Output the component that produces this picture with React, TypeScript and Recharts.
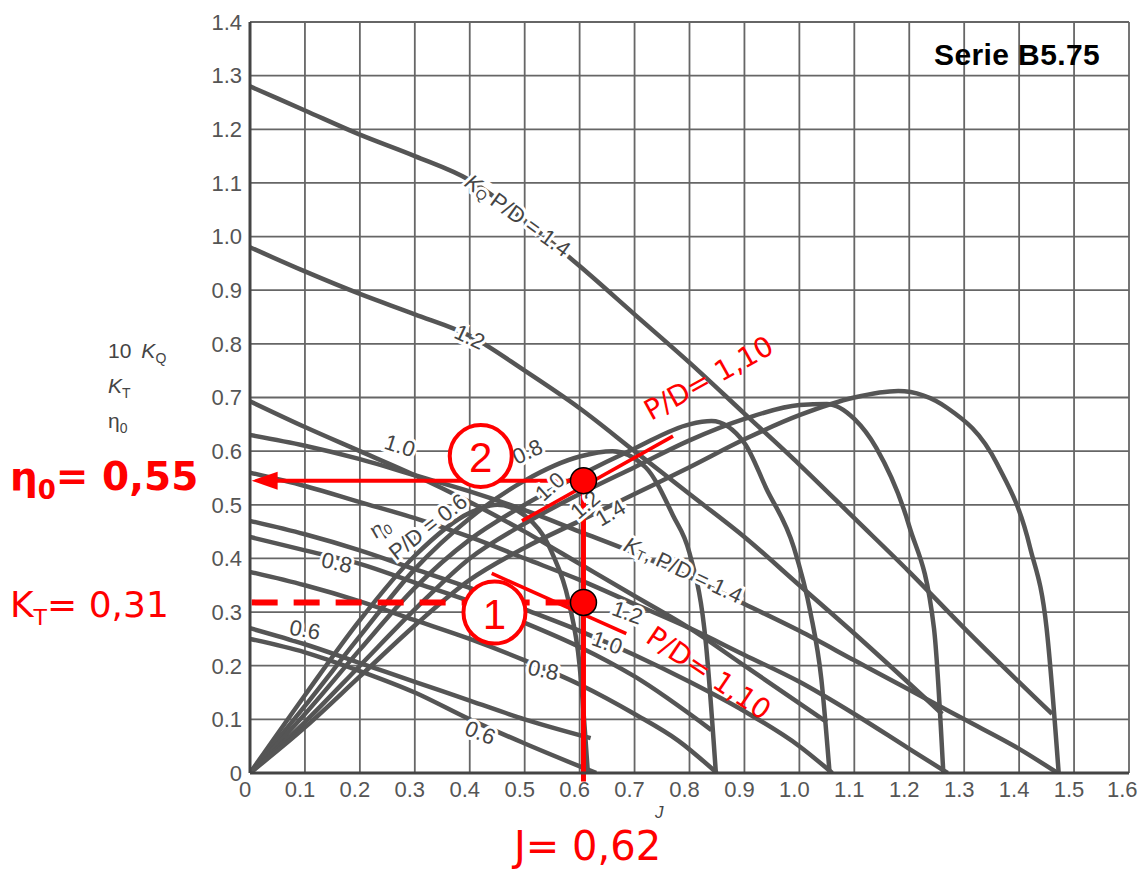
import React from 'react'
import {
  LineChart,
  Line,
  XAxis,
  YAxis,
  CartesianGrid,
  ReferenceLine,
  ReferenceDot,
} from 'recharts'

// axis ticks
const J_TICKS = [0, 0.1, 0.2, 0.3, 0.4, 0.5, 0.6, 0.7, 0.8, 0.9, 1.0, 1.1, 1.2, 1.3, 1.4, 1.5, 1.6]
const V_TICKS = [0, 0.1, 0.2, 0.3, 0.4, 0.5, 0.6, 0.7, 0.8, 0.9, 1.0, 1.1, 1.2, 1.3, 1.4]

// 10 KQ curves
const KQ06_J = [0, 0.1, 0.2, 0.3, 0.4, 0.5, 0.62]
const KQ06_V = [0.27, 0.24, 0.205, 0.17, 0.135, 0.1, 0.065]
const KQ08_J = [0, 0.1, 0.2, 0.3, 0.4, 0.5, 0.6, 0.7, 0.84]
const KQ08_V = [0.44, 0.415, 0.39, 0.355, 0.32, 0.28, 0.235, 0.18, 0.08]
const KQ10_J = [0, 0.1, 0.2, 0.3, 0.4, 0.5, 0.6, 0.7, 0.8, 0.9, 1.05]
const KQ10_V = [0.693, 0.645, 0.6, 0.555, 0.505, 0.45, 0.39, 0.33, 0.27, 0.2, 0.095]
const KQ12_J = [0, 0.1, 0.2, 0.3, 0.4, 0.5, 0.6, 0.7, 0.8, 0.9, 1.0, 1.1, 1.26]
const KQ12_V = [0.98, 0.935, 0.893, 0.855, 0.815, 0.75, 0.68, 0.6, 0.52, 0.44, 0.35, 0.26, 0.11]
const KQ14_J = [0, 0.1, 0.2, 0.3, 0.4, 0.5, 0.6, 0.7, 0.8, 0.9, 1.0, 1.1, 1.2, 1.3, 1.46]
const KQ14_V = [1.28, 1.235, 1.19, 1.15, 1.105, 1.03, 0.945, 0.855, 0.765, 0.67, 0.575, 0.475, 0.375, 0.27, 0.11]

// KT curves
const KT06_J = [0, 0.1, 0.2, 0.3, 0.4, 0.5, 0.63]
const KT06_V = [0.25, 0.225, 0.19, 0.15, 0.1, 0.055, 0]
const KT08_J = [0, 0.1, 0.2, 0.3, 0.4, 0.5, 0.6, 0.7, 0.78, 0.85]
const KT08_V = [0.375, 0.35, 0.32, 0.285, 0.25, 0.21, 0.165, 0.11, 0.06, 0]
const KT10_J = [0, 0.1, 0.2, 0.3, 0.4, 0.5, 0.6, 0.7, 0.8, 0.9, 1.0, 1.06]
const KT10_V = [0.47, 0.445, 0.415, 0.38, 0.345, 0.305, 0.265, 0.22, 0.17, 0.115, 0.05, 0]
const KT12_J = [0, 0.1, 0.2, 0.3, 0.4, 0.5, 0.6, 0.7, 0.8, 0.9, 1.0, 1.1, 1.2, 1.27]
const KT12_V = [0.56, 0.535, 0.505, 0.475, 0.44, 0.4, 0.36, 0.315, 0.27, 0.22, 0.17, 0.11, 0.045, 0]
const KT14_J = [0, 0.1, 0.2, 0.3, 0.4, 0.5, 0.6, 0.7, 0.8, 0.9, 1.0, 1.1, 1.2, 1.3, 1.4, 1.47]
const KT14_V = [0.63, 0.61, 0.585, 0.555, 0.525, 0.49, 0.45, 0.41, 0.365, 0.315, 0.265, 0.21, 0.155, 0.1, 0.045, 0]

// efficiency curves
const ETA06_J = [0, 0.1, 0.2, 0.3, 0.4, 0.45, 0.5, 0.55, 0.58, 0.6, 0.615]
const ETA06_V = [0, 0.145, 0.285, 0.405, 0.485, 0.5, 0.48, 0.41, 0.32, 0.2, 0]
const ETA08_J = [0, 0.1, 0.2, 0.3, 0.4, 0.5, 0.6, 0.66, 0.72, 0.77, 0.8, 0.83, 0.848]
const ETA08_V = [0, 0.125, 0.255, 0.38, 0.475, 0.545, 0.59, 0.6, 0.57, 0.48, 0.41, 0.24, 0]
const ETA10_J = [0, 0.1, 0.2, 0.3, 0.4, 0.5, 0.6, 0.7, 0.8, 0.84, 0.9, 0.94, 0.99, 1.02, 1.04, 1.055]
const ETA10_V = [0, 0.11, 0.23, 0.345, 0.435, 0.5, 0.555, 0.605, 0.65, 0.656, 0.615, 0.53, 0.42, 0.3, 0.175, 0]
const ETA12_J = [0, 0.1, 0.2, 0.3, 0.4, 0.5, 0.6, 0.7, 0.8, 0.9, 1.0, 1.05, 1.1, 1.14, 1.2, 1.245, 1.262]
const ETA12_V = [0, 0.095, 0.2, 0.305, 0.4, 0.465, 0.52, 0.57, 0.62, 0.66, 0.686, 0.688, 0.66, 0.606, 0.46, 0.27, 0]
const ETA14_J = [0, 0.1, 0.2, 0.3, 0.4, 0.5, 0.6, 0.7, 0.8, 0.9, 1.0, 1.1, 1.18, 1.27, 1.36, 1.42, 1.45, 1.472]
const ETA14_V = [0, 0.085, 0.18, 0.275, 0.36, 0.42, 0.47, 0.52, 0.57, 0.622, 0.667, 0.7, 0.712, 0.68, 0.576, 0.42, 0.27, 0]

// operating point
const J_OP = 0.607
const ETA_OP = 0.545
const KT_OP = 0.318

const toPts = (js: number[], vs: number[]) => js.map((j, i) => ({ j, v: vs[i] }))

const CURVES = [
  toPts(KQ06_J, KQ06_V), toPts(KQ08_J, KQ08_V), toPts(KQ10_J, KQ10_V), toPts(KQ12_J, KQ12_V), toPts(KQ14_J, KQ14_V),
  toPts(KT06_J, KT06_V), toPts(KT08_J, KT08_V), toPts(KT10_J, KT10_V), toPts(KT12_J, KT12_V), toPts(KT14_J, KT14_V),
  toPts(ETA06_J, ETA06_V), toPts(ETA08_J, ETA08_V), toPts(ETA10_J, ETA10_V), toPts(ETA12_J, ETA12_V), toPts(ETA14_J, ETA14_V),
]

const FONT = '"Liberation Sans", Arial, sans-serif'
const RED_FONT = '"DejaVu Sans", sans-serif'
const INK = '#555'
const RED = '#f00'

const sub = (s: string, size = 14) => (
  <tspan fontSize={size} dy={5}>{s}</tspan>
)

// curve labels in data coords
const CURVE_LABELS: { j: number; v: number; a: number; t: React.ReactNode }[] = [
  { j: 0.488, v: 1.04, a: 36, t: <><tspan fontStyle="italic">K</tspan>{sub('Q')}<tspan dy={-5}>  P/D = 1.4</tspan></> },
  { j: 0.4, v: 0.813, a: 25, t: '1.2' },
  { j: 0.273, v: 0.61, a: 18, t: '1.0' },
  { j: 0.158, v: 0.392, a: 12, t: '0.8' },
  { j: 0.1, v: 0.267, a: 10, t: '0.6' },
  { j: 0.237, v: 0.457, a: -30, t: <>η{sub('0')}</> },
  { j: 0.324, v: 0.459, a: -38, t: 'P/D = 0.6' },
  { j: 0.505, v: 0.599, a: -25, t: '0.8' },
  { j: 0.546, v: 0.534, a: -42, t: '1.0' },
  { j: 0.61, v: 0.5, a: -40, t: '1.2' },
  { j: 0.656, v: 0.485, a: -30, t: '1.4' },
  { j: 0.789, v: 0.379, a: 25, t: <><tspan fontStyle="italic">K</tspan>{sub('T')}<tspan dy={-5}>, P/D = 1.4</tspan></> },
  { j: 0.687, v: 0.299, a: 20, t: '1.2' },
  { j: 0.65, v: 0.243, a: 20, t: '1.0' },
  { j: 0.534, v: 0.192, a: 12, t: '0.8' },
  { j: 0.419, v: 0.075, a: 22, t: '0.6' },
]

const fmt = (v: number) => (v === 0 ? '0' : v.toFixed(1))

const textShape = (t: React.ReactNode, a: number, size: number, color: string, halo: number, family = FONT) =>
  (p: any) => (
    <text
      x={p.cx}
      y={p.cy}
      transform={`rotate(${a}, ${p.cx}, ${p.cy})`}
      textAnchor="middle"
      dominantBaseline="central"
      fontSize={size}
      fontFamily={family}
      fill={color}
      stroke="#fff"
      strokeWidth={halo}
      paintOrder="stroke"
    >
      {t}
    </text>
  )

const numberCircle = (n: string) => (p: any) => (
  <g>
    <circle cx={p.cx} cy={p.cy} r={31} fill="#fff" stroke={RED} strokeWidth={4} />
    <text x={p.cx} y={p.cy + 2} textAnchor="middle" dominantBaseline="central" fontSize={42} fontFamily={FONT} fill={RED}>
      {n}
    </text>
  </g>
)

const redDot = (p: any) => <circle cx={p.cx} cy={p.cy} r={13} fill={RED} stroke="#000" strokeWidth={1.5} />

const arrowHead = (p: any) => (
  <polygon points={`${p.cx},${p.cy} ${p.cx + 26},${p.cy - 9} ${p.cx + 26},${p.cy + 9}`} fill={RED} />
)

export default function App() {
  return (
    <div style={{ position: 'absolute', left: 0, top: 0, width: 1141, height: 871, background: '#fff', fontFamily: FONT, overflow: 'hidden' }}>
      <LineChart width={1141} height={871} margin={{ top: 22, right: 12, bottom: 0, left: 0 }}>
        <CartesianGrid stroke="#666" strokeWidth={1.8} />
        <XAxis
          dataKey="j"
          type="number"
          domain={[0, 1.6]}
          ticks={J_TICKS}
          tickFormatter={fmt}
          allowDataOverflow
          height={98}
          tickLine={false}
          tickSize={0}
          tickMargin={8}
          axisLine={{ stroke: '#444', strokeWidth: 3 }}
          tick={{ fontSize: 22, fill: INK, fontFamily: FONT, dx: -5 }}
        />
        <YAxis
          type="number"
          domain={[0, 1.4]}
          ticks={V_TICKS}
          tickFormatter={fmt}
          allowDataOverflow
          width={250}
          tickLine={false}
          tickSize={0}
          tickMargin={8}
          axisLine={{ stroke: '#444', strokeWidth: 3 }}
          tick={{ fontSize: 22, fill: INK, fontFamily: FONT }}
        />
        {CURVES.map((d, i) => (
          <Line
            key={i}
            data={d}
            dataKey="v"
            type="monotone"
            stroke={INK}
            strokeWidth={4.5}
            dot={false}
            activeDot={false}
            isAnimationActive={false}
          />
        ))}
        {CURVE_LABELS.map((l, i) => (
          <ReferenceDot key={'l' + i} x={l.j} y={l.v} r={0} ifOverflow="visible" shape={textShape(l.t, l.a, 22, '#444', 6)} />
        ))}

        {/* red construction */}
        <ReferenceLine segment={[{ x: J_OP, y: -0.016 }, { x: J_OP, y: ETA_OP }]} stroke={RED} strokeWidth={5} ifOverflow="visible" />
        <ReferenceLine segment={[{ x: 0.03, y: ETA_OP }, { x: J_OP, y: ETA_OP }]} stroke={RED} strokeWidth={4} ifOverflow="visible" />
        <ReferenceLine segment={[{ x: 0.003, y: KT_OP }, { x: J_OP, y: KT_OP }]} stroke={RED} strokeWidth={6} strokeDasharray="26 16" ifOverflow="visible" />
        <ReferenceLine segment={[{ x: 0.495, y: 0.47 }, { x: 0.77, y: 0.628 }]} stroke={RED} strokeWidth={3.5} ifOverflow="visible" />
        <ReferenceLine segment={[{ x: 0.44, y: 0.372 }, { x: 0.685, y: 0.26 }]} stroke={RED} strokeWidth={3.5} ifOverflow="visible" />
        <ReferenceDot x={0.003} y={ETA_OP} r={0} ifOverflow="visible" shape={arrowHead} />
        <ReferenceDot x={0.42} y={0.591} r={31} ifOverflow="visible" shape={numberCircle('2')} />
        <ReferenceDot x={0.445} y={0.299} r={31} ifOverflow="visible" shape={numberCircle('1')} />
        <ReferenceDot x={J_OP} y={ETA_OP} r={13} ifOverflow="visible" shape={redDot} />
        <ReferenceDot x={J_OP} y={KT_OP} r={13} ifOverflow="visible" shape={redDot} />
        <ReferenceDot x={0.835} y={0.736} r={0} ifOverflow="visible" shape={textShape('P/D= 1,10', -29, 28, RED, 0, RED_FONT)} />
        <ReferenceDot x={0.835} y={0.186} r={0} ifOverflow="visible" shape={textShape('P/D= 1,10', 34, 28, RED, 0, RED_FONT)} />
      </LineChart>

      {/* axis captions */}
      <div style={{ position: 'absolute', left: 108, top: 337, fontSize: 21, color: '#444', lineHeight: '28px' }}>
        <div>10<i style={{ marginLeft: 10 }}>K</i><sub style={{ fontSize: 14 }}>Q</sub></div>
        <div><i>K</i><sub style={{ fontSize: 14 }}>T</sub></div>
        <div>η<sub style={{ fontSize: 14 }}>0</sub></div>
      </div>
      <div style={{ position: 'absolute', left: 655, top: 804, fontSize: 17, lineHeight: '18px', fontStyle: 'italic', color: '#444' }}>J</div>
      <div style={{ position: 'absolute', left: 934, top: 38, fontSize: 30, fontWeight: 700, color: '#000', letterSpacing: 0.4 }}>
        Serie B5.75
      </div>

      {/* red results */}
      <div style={{ position: 'absolute', left: 10, top: 454, fontSize: 39, fontWeight: 700, color: RED, whiteSpace: 'nowrap', fontFamily: RED_FONT }}>
        η<sub style={{ fontSize: 26 }}>0</sub>= 0,55
      </div>
      <div style={{ position: 'absolute', left: 10, top: 584, fontSize: 36, color: RED, whiteSpace: 'nowrap', fontFamily: RED_FONT }}>
        K<sub style={{ fontSize: 22 }}>T</sub>= 0,31
      </div>
      <div style={{ position: 'absolute', left: 514, top: 826, fontSize: 40, lineHeight: '40px', color: RED, whiteSpace: 'nowrap', fontFamily: RED_FONT }}>
        J= 0,62
      </div>
    </div>
  )
}
